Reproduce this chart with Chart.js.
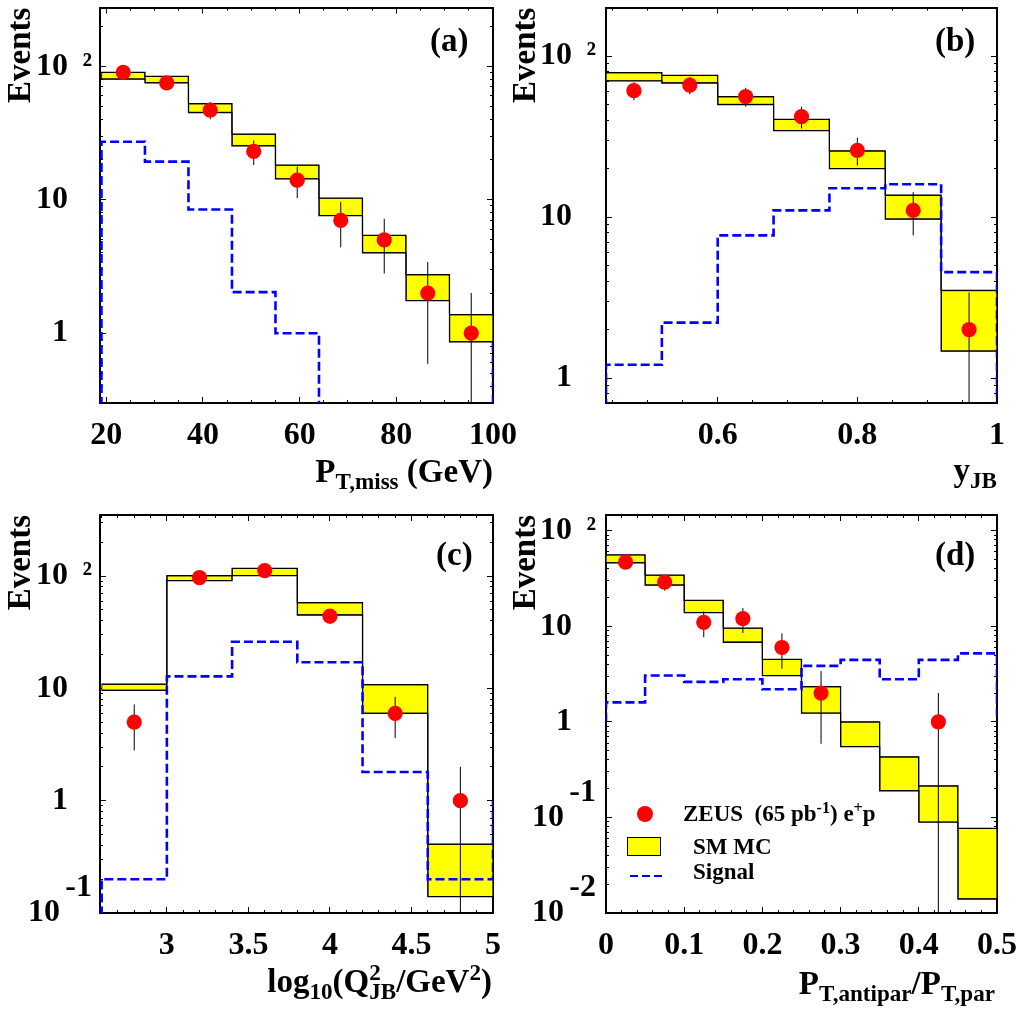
<!DOCTYPE html>
<html>
<head>
<meta charset="utf-8">
<title>ZEUS e+p high missing PT events</title>
<script src="https://cdn.jsdelivr.net/npm/chart.js@4.4.1/dist/chart.umd.min.js"></script>
<style>
  html, body { margin: 0; padding: 0; background: #fff; }
  body { position: relative; width: 1024px; height: 1014px; overflow: hidden;
         font-family: 'Liberation Serif', 'Times New Roman', serif; font-weight: bold; color: #000; }
  canvas { position: absolute; }
  .txt { position: absolute; white-space: nowrap; line-height: 1; font-size: 33px; }
  .txt sub, .txt sup { font-size: 0.7em; line-height: 0; vertical-align: baseline; position: relative; }
  .txt sub { top: 0.3em; }
  .txt sup { top: -0.5em; }
  .leg { font-size: 23px; }
  .mark { position: absolute; box-sizing: border-box; }
</style>
</head>
<body>
<canvas id="chartA" width="530" height="500" style="left:0;top:0"></canvas>
<canvas id="chartB" width="512" height="500" style="left:512px;top:0"></canvas>
<canvas id="chartC" width="530" height="514" style="left:0;top:500px"></canvas>
<canvas id="chartD" width="512" height="514" style="left:512px;top:500px"></canvas>

<div class="txt" style="left:430px;top:24px">(a)</div>
<div class="txt" style="left:935px;top:24px">(b)</div>
<div class="txt" style="left:436px;top:538px">(c)</div>
<div class="txt" style="left:935px;top:538px">(d)</div>

<div class="txt" style="right:531px;top:455px">P<sub>T,miss</sub> (GeV)</div>
<div class="txt" style="right:27px;top:454px">y<sub>JB</sub></div>
<div class="txt" style="right:532px;top:965px">log<sub>10</sub>(Q<sup>2</sup><sub style="margin-left:-0.5em">JB</sub>/GeV<sup>2</sup>)</div>
<div class="txt" style="right:29px;top:967px">P<sub>T,antipar</sub>/P<sub>T,par</sub></div>

<!-- legend of panel (d) -->
<div class="mark" style="left:637px;top:806px;width:16px;height:16px;border-radius:50%;background:#ff0000"></div>
<div class="mark" style="left:627px;top:837px;width:34px;height:19px;background:#ffff00;border:1px solid #000"></div>
<div class="mark" style="left:630px;top:875px;width:32px;height:1.5px;background:repeating-linear-gradient(to right,#0000ff 0 8px,transparent 8px 12px)"></div>
<div class="txt leg" style="left:683px;top:802px">ZEUS&nbsp;&nbsp;(65 pb<sup>-1</sup>) e<sup>+</sup>p</div>
<div class="txt leg" style="left:693px;top:835px">SM MC</div>
<div class="txt leg" style="left:693px;top:860px">Signal</div>

<script>
// (a) P_T,miss
const edgesA = [19, 28, 37, 46, 55, 64, 73, 82, 91, 100];
const pointXA = [23.5, 32.5, 41.5, 50.5, 59.5, 68.5, 77.5, 86.5, 95.5];
const dataA = [90, 75, 47, 23, 14, 7, 5, 2, 1];
const dataLoA = [80.5, 66.3, 40.1, 18.2, 10.3, 4.4, 2.8, 0.59, 0];
const dataHiA = [99.5, 83.7, 53.9, 27.8, 17.7, 9.6, 7.2, 3.41, 2.0];
const mcLoA = [80, 75, 45, 25.3, 14.3, 7.6, 4.0, 1.75, 0.86];
const mcHiA = [90, 84, 52.5, 31, 18.2, 10.3, 5.4, 2.75, 1.38];
const signalA = [27.2, 19.3, 8.45, 2.03, 1.0, 0, 0, 0, 0];
const signalEdgeA = [0, 0.9];
const xTicksA = [20, 40, 60, 80, 100];
const xLabelsA = ['20', '40', '60', '80', '100'];
const yTicksA = [1, 10, 100];
const yLabelsA = ['1   ', '10   ', '10 \u2009²'];

// (b) y_JB
const edgesB = [0.44, 0.52, 0.60, 0.68, 0.76, 0.84, 0.92, 1.0];
const pointXB = [0.48, 0.56, 0.64, 0.72, 0.80, 0.88, 0.96];
const dataB = [61, 66, 56, 42, 26, 11, 2];
const dataLoB = [53.2, 57.9, 48.5, 35.5, 20.9, 7.7, 0.59];
const dataHiB = [68.8, 74.1, 63.5, 48.5, 31.1, 14.3, 3.4];
const mcLoB = [70, 68, 50, 34.4, 20, 9.7, 1.47];
const mcHiB = [79, 76, 56, 40.4, 25.8, 13.7, 3.5];
const signalB = [1.21, 2.21, 7.7, 11.0, 15.1, 16.0, 4.55];
const signalEdgeB = [0, 0];
const xTicksB = [0.6, 0.8, 1];
const xLabelsB = ['0.6', '0.8', '1'];
const yTicksB = [1, 10, 100];
const yLabelsB = ['1   ', '10   ', '10 \u2009²'];

// (c) log10(Q2_JB)
const edgesC = [2.6, 3.0, 3.4, 3.8, 4.2, 4.6, 5.0];
const pointXC = [2.8, 3.2, 3.6, 4.0, 4.4, 4.8];
const dataC = [5, 97, 112, 44, 6, 1];
const dataLoC = [2.8, 87, 101.4, 37.4, 3.6, 0];
const dataHiC = [7.2, 107, 122.6, 50.6, 8.4, 2.0];
const mcLoC = [9.6, 91, 101, 45, 6.0, 0.14];
const mcHiC = [10.9, 101, 117, 58, 10.8, 0.41];
const signalC = [0.2, 12.8, 26, 17.1, 1.8, 0.2];
const signalEdgeC = [0, 1];
const xTicksC = [3, 3.5, 4, 4.5, 5];
const xLabelsC = ['3', '3.5', '4', '4.5', '5'];
const yTicksC = [0.1, 1, 10, 100];
const yLabelsC = [['-1', '10    ', ''], '1   ', '10   ', '10 \u2009²'];

// (d) P_T,antipar / P_T,par
const edgesD = [0, 0.05, 0.1, 0.15, 0.2, 0.25, 0.3, 0.35, 0.4, 0.45, 0.5];
const pointXD = [0.025, 0.075, 0.125, 0.175, 0.225, 0.275, 0.425];
const dataD = [47, 29, 11, 12, 6, 2, 1];
const dataLoD = [40.1, 23.6, 7.7, 8.5, 3.6, 0.59, 0];
const dataHiD = [53.9, 34.4, 14.3, 15.5, 8.4, 3.4, 2.0];
const mcLoD = [46, 27, 13.9, 6.8, 3.05, 1.23, 0.55, 0.19, 0.089, 0.014];
const mcHiD = [56, 34.4, 18.7, 9.6, 4.5, 2.34, 1.0, 0.43, 0.214, 0.077];
const signalD = [1.6, 3.05, 2.62, 2.79, 2.19, 3.85, 4.45, 2.79, 4.45, 5.2];
const signalEdgeD = [1, 1];
const xTicksD = [0, 0.1, 0.2, 0.3, 0.4, 0.5];
const xLabelsD = ['0', '0.1', '0.2', '0.3', '0.4', '0.5'];
const yTicksD = [0.01, 0.1, 1, 10, 100];
const yLabelsD = [['-2', '10    ', ''], ['-1', '10    ', ''], '1   ', '10   ', '10 \u2009²'];

Chart.defaults.font.family = "'Liberation Serif', serif";
Chart.defaults.font.weight = 'bold';
Chart.defaults.color = '#000';

// zero counts sit below the log axis
function pos(v) {
  return v > 0 ? v : 1e-6;
}

function stepPoints(edges, vals, leftVal, rightVal) {
  const pts = [{ x: edges[0], y: pos(leftVal) }];
  vals.forEach((v, i) => pts.push({ x: edges[i], y: pos(v) }));
  pts.push({ x: edges[edges.length - 1], y: pos(rightVal) });
  return pts;
}

function errorPoints(xs, lo, hi) {
  const pts = [];
  xs.forEach((x, i) => {
    pts.push({ x, y: pos(lo[i]) }, { x, y: pos(hi[i]) }, { x, y: null });
  });
  return pts;
}

function linearTicks(min, max, step) {
  const out = [];
  for (let k = Math.ceil(min / step - 1e-9); k * step <= max + 1e-9; k++) {
    out.push({ value: Math.round(k * step * 1e6) / 1e6 });
  }
  return out;
}

function logTicks(min, max) {
  const out = [];
  for (let e = Math.floor(Math.log10(min)); e <= Math.ceil(Math.log10(max)); e++) {
    for (let m = 1; m <= 9; m++) {
      const v = Number((m * Math.pow(10, e)).toPrecision(6));
      if (v >= min * 0.9999 && v <= max * 1.0001) out.push({ value: v });
    }
  }
  return out;
}

function pickLabel(v, ticks, labels) {
  const i = ticks.findIndex(t => Math.abs(t - v) < 1e-6 * Math.max(Math.abs(t), 1e-3));
  return i >= 0 ? labels[i] : '';
}

function fixSize(prop, px) {
  return (axis) => {
    axis[prop] = px;
    axis.paddingLeft = axis.paddingRight = axis.paddingTop = axis.paddingBottom = 0;
  };
}

const minorGrid = { drawOnChartArea: false, offset: false, tickLength: -3, color: '#000', tickWidth: 1 };
const majorGrid = { drawOnChartArea: false, offset: false, tickLength: -6, color: '#000', tickWidth: 1 };
const borderOpts = { display: true, color: '#000', width: 2 };

function xAxis(p, position) {
  return {
    type: 'linear', position, min: p.xMin, max: p.xMax, offset: false,
    grid: minorGrid, border: borderOpts,
    ticks: {
      display: position === 'bottom', autoSkip: false, maxRotation: 0, minRotation: 0, padding: 17,
      font: { size: 32 },
      callback: (v) => pickLabel(v, p.xTicks, p.xLabels)
    },
    afterBuildTicks: (axis) => { axis.ticks = linearTicks(p.xMin, p.xMax, p.xStep); },
    afterFit: fixSize('height', position === 'top' ? p.top : p.bottom)
  };
}

// longer tick marks at the labelled values
function xMajor(p, position) {
  return {
    type: 'linear', position, weight: -1, min: p.xMin, max: p.xMax, offset: false,
    grid: majorGrid, border: { display: false },
    ticks: { display: false, autoSkip: false },
    afterBuildTicks: (axis) => { axis.ticks = p.xTicks.map(v => ({ value: v })); },
    afterFit: fixSize('height', 0)
  };
}

function yAxis(p, position) {
  return {
    type: 'logarithmic', position, min: p.yMin, max: p.yMax,
    grid: minorGrid, border: borderOpts,
    ticks: {
      display: position === 'left', autoSkip: false, padding: p.yPad,
      font: { size: 32, lineHeight: 0.78 },
      callback: (v) => pickLabel(v, p.yTicks, p.yLabels)
    },
    title: {
      display: position === 'left', text: 'Events', align: 'end',
      font: { size: 33, lineHeight: 0.9 }, padding: { top: p.titlePad, bottom: 0 }
    },
    afterBuildTicks: (axis) => { axis.ticks = logTicks(p.yMin, p.yMax); },
    afterFit: fixSize('width', position === 'left' ? p.left : p.right)
  };
}

function yMajor(p, position) {
  return {
    type: 'logarithmic', position, weight: -1, min: p.yMin, max: p.yMax,
    grid: majorGrid, border: { display: false },
    ticks: { display: false, autoSkip: false },
    afterBuildTicks: (axis) => { axis.ticks = p.yTicks.map(v => ({ value: v })); },
    afterFit: fixSize('width', 0)
  };
}

function drawPanel(id, p) {
  const ctx = document.getElementById(id).getContext('2d');
  const centers = p.edges.slice(0, -1).map((e, i) => (e + p.edges[i + 1]) / 2);
  const last = p.mcHi.length - 1;

  new Chart(ctx, {
    type: 'bar',
    data: {
      datasets: [
        {
          type: 'line', label: 'ZEUS', order: 1, showLine: false,
          data: p.pointX.map((x, i) => ({ x, y: p.data[i] })),
          pointRadius: 7.6, pointBackgroundColor: '#ff0000', pointBorderWidth: 0
        },
        {
          type: 'line', label: 'errors', order: 2,
          data: errorPoints(p.pointX, p.dataLo, p.dataHi),
          borderColor: '#000', borderWidth: 1, pointRadius: 0, spanGaps: false
        },
        {
          type: 'line', label: 'Signal', order: 3, stepped: true,
          data: stepPoints(p.edges, p.signal, p.signalEdge[0], p.signalEdge[1]),
          borderColor: '#0000ff', borderWidth: 2.6, borderDash: [9, 4], pointRadius: 0
        },
        {
          type: 'line', label: 'SM MC up', order: 4, stepped: true,
          data: stepPoints(p.edges, p.mcHi, p.mcHi[0], p.mcHi[last]),
          borderColor: '#000', borderWidth: 1.2, pointRadius: 0
        },
        {
          type: 'line', label: 'SM MC down', order: 4, stepped: true,
          data: stepPoints(p.edges, p.mcLo, p.mcLo[0], p.mcLo[last]),
          borderColor: '#000', borderWidth: 1.2, pointRadius: 0
        },
        {
          type: 'bar', label: 'SM MC', order: 5,
          data: centers.map((x, i) => ({ x, y: [p.mcLo[i], p.mcHi[i]] })),
          backgroundColor: '#ffff00', borderColor: '#000', borderWidth: 1, borderSkipped: false,
          barThickness: 'flex', barPercentage: 1, categoryPercentage: 1
        }
      ]
    },
    options: {
      responsive: false,
      animation: false,
      events: [],
      layout: { padding: 0 },
      plugins: { legend: { display: false }, tooltip: { enabled: false } },
      scales: {
        x: xAxis(p, 'bottom'),
        xt: xAxis(p, 'top'),
        xMaj: xMajor(p, 'bottom'),
        xtMaj: xMajor(p, 'top'),
        y: yAxis(p, 'left'),
        yr: yAxis(p, 'right'),
        yMaj: yMajor(p, 'left'),
        yrMaj: yMajor(p, 'right')
      }
    }
  });
}

drawPanel('chartA', {
  edges: edgesA, pointX: pointXA, data: dataA, dataLo: dataLoA, dataHi: dataHiA,
  mcLo: mcLoA, mcHi: mcHiA, signal: signalA, signalEdge: signalEdgeA,
  xMin: 18.7, xMax: 100, xStep: 5, xTicks: xTicksA, xLabels: xLabelsA,
  yMin: 0.3, yMax: 275, yTicks: yTicksA, yLabels: yLabelsA,
  left: 100, right: 37, top: 5, bottom: 97, yPad: 11, titlePad: 6.5
});

drawPanel('chartB', {
  edges: edgesB, pointX: pointXB, data: dataB, dataLo: dataLoB, dataHi: dataHiB,
  mcLo: mcLoB, mcHi: mcHiB, signal: signalB, signalEdge: signalEdgeB,
  xMin: 0.44, xMax: 1.0, xStep: 0.05, xTicks: xTicksB, xLabels: xLabelsB,
  yMin: 0.7, yMax: 200, yTicks: yTicksB, yLabels: yLabelsB,
  left: 94, right: 27, top: 5, bottom: 97, yPad: 13, titlePad: 0
});

drawPanel('chartC', {
  edges: edgesC, pointX: pointXC, data: dataC, dataLo: dataLoC, dataHi: dataHiC,
  mcLo: mcLoC, mcHi: mcHiC, signal: signalC, signalEdge: signalEdgeC,
  xMin: 2.59, xMax: 5.0, xStep: 0.1, xTicks: xTicksC, xLabels: xLabelsC,
  yMin: 0.1, yMax: 350, yTicks: yTicksC, yLabels: yLabelsC,
  left: 100, right: 37, top: 15, bottom: 101, yPad: 11, titlePad: 6.5
});

drawPanel('chartD', {
  edges: edgesD, pointX: pointXD, data: dataD, dataLo: dataLoD, dataHi: dataHiD,
  mcLo: mcLoD, mcHi: mcHiD, signal: signalD, signalEdge: signalEdgeD,
  xMin: 0, xMax: 0.5, xStep: 0.02, xTicks: xTicksD, xLabels: xLabelsD,
  yMin: 0.01, yMax: 146, yTicks: yTicksD, yLabels: yLabelsD,
  left: 94, right: 27, top: 15, bottom: 101, yPad: 13, titlePad: 0
});
</script>
</body>
</html>
